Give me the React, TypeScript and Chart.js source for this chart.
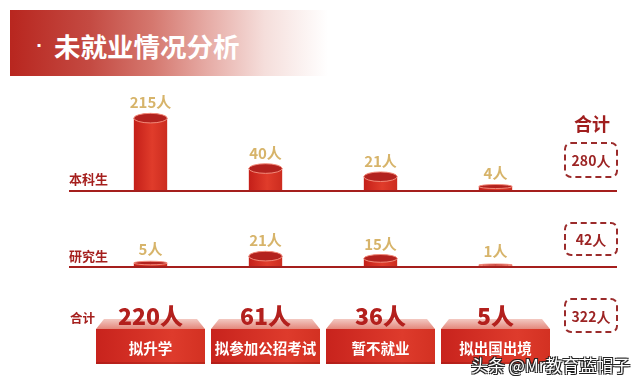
import React, { useEffect, useRef } from 'react';
import { Chart, LinearScale, registerables } from 'chart.js';

// ---------- data ----------
const categories = ['拟升学', '拟参加公招考试', '暂不就业', '拟出国出境'];
const undergrad = [215, 40, 21, 4];
const graduate = [5, 21, 15, 1];
const rowLabels = ['本科生', '研究生', '合计'];
const unit = '人';
const titleDot = '·';
const title = '未就业情况分析';
const totalHeader = '合计';
const watermark = '头条 @Mr教育蓝帽子';

const catTotals = categories.map((_, i) => undergrad[i] + graduate[i]);
const sum = (a: number[]) => a.reduce((s, v) => s + v, 0);
const rowTotals = [sum(undergrad), sum(graduate), sum(catTotals)];

// ---------- power scale (like d3.scalePow) ----------
const POW = 0.7;
class PowScale extends LinearScale {
  static id = 'pow';
  static defaults = {};
  getPixelForValue(value: number) {
    const range = (this as any).max - (this as any).min;
    const t = range > 0 ? Math.pow(Math.max(0, value - (this as any).min) / range, POW) : 0;
    return (this as any).getPixelForDecimal(t);
  }
  getValueForPixel(pixel: number) {
    const d = (this as any).getDecimalForPixel(pixel);
    return (this as any).min + Math.pow(Math.max(0, d), 1 / POW) * ((this as any).max - (this as any).min);
  }
}
Chart.register(...registerables, PowScale as any);

const FONT = '"Noto Sans CJK SC", "Noto Sans", sans-serif';
const DARK_RED = '#a51f1d';

function drawCylinder(ctx: CanvasRenderingContext2D, x: number, top: number, base: number, w: number) {
  const h = base - top;
  const rx = w / 2;
  const ry = Math.min(4.8, Math.max(1, h * 0.45));
  const g = ctx.createLinearGradient(x - rx, 0, x + rx, 0);
  g.addColorStop(0, '#c41f19');
  g.addColorStop(0.55, '#e03c2b');
  g.addColorStop(1, '#cc2c1f');
  ctx.fillStyle = g;
  ctx.fillRect(x - rx, top, w, h);
  ctx.beginPath();
  ctx.ellipse(x, top, rx, ry, 0, 0, Math.PI * 2);
  ctx.fillStyle = '#b3221e';
  ctx.fill();
  ctx.lineWidth = 1;
  ctx.strokeStyle = '#f28a7a';
  ctx.stroke();
  return ry;
}

function drawBlocks(chart: any) {
  const ctx: CanvasRenderingContext2D = chart.ctx;
  const xs = chart.scales.x;
  const bw = 109;
  const ft = 119, fb = 129, bb = 164;
  categories.forEach((cat, i) => {
    const cx = xs.getPixelForValue(i);
    const l = cx - bw / 2, r = cx + bw / 2;
    // top face
    const tg = ctx.createLinearGradient(0, ft, 0, fb);
    tg.addColorStop(0, '#f3c9c2');
    tg.addColorStop(1, '#e4877b');
    ctx.fillStyle = tg;
    ctx.beginPath();
    ctx.moveTo(l + 8, ft);
    ctx.lineTo(r - 8, ft);
    ctx.lineTo(r, fb);
    ctx.lineTo(l, fb);
    ctx.closePath();
    ctx.fill();
    // front face
    const fg = ctx.createLinearGradient(l, 0, r, 0);
    fg.addColorStop(0, '#c8231d');
    fg.addColorStop(0.7, '#de3b2c');
    fg.addColorStop(1, '#d33122');
    ctx.fillStyle = fg;
    ctx.fillRect(l, fb, bw, bb - fb);
    ctx.fillStyle = 'rgba(120,10,10,0.25)';
    ctx.fillRect(l, bb - 2, bw, 2);
    // category text
    ctx.fillStyle = '#ffffff';
    ctx.font = `bold 14.5px ${FONT}`;
    ctx.textAlign = 'center';
    ctx.textBaseline = 'middle';
    ctx.fillText(cat, cx, 148);
    // total value
    ctx.fillStyle = '#b3201d';
    ctx.font = `900 23px ${FONT}`;
    ctx.fillText(`${catTotals[i]}${unit}`, cx, 116);
  });
}

const cylinderPlugin = (withBlocks: boolean) => ({
  id: 'cylinders',
  afterDatasetsDraw(chart: any) {
    const ctx: CanvasRenderingContext2D = chart.ctx;
    const meta = chart.getDatasetMeta(0);
    const values = chart.data.datasets[0].data as number[];
    const base = chart.chartArea.bottom;
    ctx.save();
    meta.data.forEach((el: any, i: number) => {
      const { x, y, width } = el.getProps(['x', 'y', 'width'], true);
      const top = Math.min(y, base - 2);
      const ry = drawCylinder(ctx, x, top, base, width);
      ctx.fillStyle = '#d7b46a';
      ctx.font = `bold 15px ${FONT}`;
      ctx.textAlign = 'center';
      ctx.textBaseline = 'alphabetic';
      ctx.fillText(`${values[i]}${unit}`, x, top - Math.max(ry, 3) - 5);
    });
    ctx.strokeStyle = DARK_RED;
    ctx.lineWidth = 2;
    ctx.beginPath();
    ctx.moveTo(69, base);
    ctx.lineTo(617, base);
    ctx.stroke();
    if (withBlocks) drawBlocks(chart);
    ctx.restore();
  },
});

function makeConfig(data: number[], max: number, padding: any, withBlocks: boolean): any {
  return {
    type: 'bar',
    data: {
      labels: categories,
      datasets: [
        {
          data,
          backgroundColor: 'rgba(0,0,0,0)',
          borderWidth: 0,
          barPercentage: 0.29,
          categoryPercentage: 1,
        },
      ],
    },
    options: {
      animation: false,
      responsive: false,
      events: [],
      layout: { padding },
      plugins: { legend: { display: false }, tooltip: { enabled: false } },
      scales: {
        x: { type: 'category', display: false, offset: true },
        y: { type: 'pow', min: 0, max, display: false },
      },
    },
    plugins: [cylinderPlugin(withBlocks)],
  };
}

function Label(props: { text: string; left: number; cy: number; size: number; color?: string; center?: boolean; width?: number }) {
  const h = props.size * 2;
  return (
    <div
      style={{
        position: 'absolute',
        left: props.left,
        top: props.cy - h / 2,
        height: h,
        width: props.width,
        display: 'flex',
        alignItems: 'center',
        justifyContent: props.center ? 'center' : 'flex-start',
        fontFamily: FONT,
        fontWeight: 700,
        fontSize: props.size,
        color: props.color || DARK_RED,
        whiteSpace: 'nowrap',
      }}
    >
      {props.text}
    </div>
  );
}

function TotalBox(props: { value: number; top: number; height: number }) {
  return (
    <div
      style={{
        position: 'absolute',
        left: 564,
        top: props.top,
        width: 54,
        height: props.height,
        boxSizing: 'border-box',
        border: '2px dashed #9b2b2b',
        borderRadius: 7,
        display: 'flex',
        alignItems: 'center',
        justifyContent: 'center',
        fontFamily: FONT,
        fontWeight: 700,
        fontSize: 14,
        color: '#9c2424',
      }}
    >
      {`${props.value}${unit}`}
    </div>
  );
}

export default function App() {
  const uRef = useRef<HTMLCanvasElement>(null);
  const gRef = useRef<HTMLCanvasElement>(null);

  useEffect(() => {
    const cu = new Chart(uRef.current!, makeConfig(undergrad, 300, { left: 93, right: 87, top: 19, bottom: 9 }, false));
    const cg = new Chart(gRef.current!, makeConfig(graduate, 170, { left: 93, right: 87, top: 20, bottom: 118 }, true));
    return () => {
      cu.destroy();
      cg.destroy();
    };
  }, []);

  return (
    <div style={{ position: 'fixed', left: 0, top: 0, width: 640, height: 385, background: '#ffffff', overflow: 'hidden' }}>
      <div
        style={{
          position: 'absolute',
          left: 10,
          top: 10,
          width: 318,
          height: 66,
          background:
            'linear-gradient(to right, #b8261f 0%, #c44a42 25%, #d5786f 45%, #e6aba5 62%, #f5dedb 80%, rgba(255,255,255,0) 100%)',
        }}
      />
      <div
        style={{
          position: 'absolute',
          left: 36,
          top: 23,
          height: 44,
          display: 'flex',
          alignItems: 'center',
          fontFamily: '"DejaVu Sans", sans-serif',
          fontWeight: 700,
          fontSize: 16,
          color: '#ffffff',
        }}
      >
        {titleDot}
      </div>
      <div
        style={{
          position: 'absolute',
          left: 54,
          top: 23,
          height: 44,
          display: 'flex',
          alignItems: 'center',
          fontFamily: FONT,
          fontWeight: 700,
          fontSize: 26.5,
          color: '#ffffff',
          whiteSpace: 'pre',
        }}
      >
        {title}
      </div>

      <canvas ref={uRef} width={640} height={120} style={{ position: 'absolute', left: 0, top: 80 }} />
      <canvas ref={gRef} width={640} height={185} style={{ position: 'absolute', left: 0, top: 200 }} />

      <Label text={rowLabels[0]} left={69} cy={178} size={13} />
      <Label text={rowLabels[1]} left={69} cy={255} size={13} />
      <Label text={rowLabels[2]} left={70} cy={317} size={12.5} />

      <Label text={totalHeader} left={562} width={60} center cy={123} size={18} color="#a01e1e" />
      <TotalBox value={rowTotals[0]} top={142} height={36} />
      <TotalBox value={rowTotals[1]} top={222} height={34} />
      <TotalBox value={rowTotals[2]} top={298} height={35} />

      <div
        style={{
          position: 'absolute',
          left: 471,
          top: 352,
          height: 24,
          display: 'flex',
          alignItems: 'center',
          fontFamily: FONT,
          fontSize: 17,
          color: '#ffffff',
          whiteSpace: 'pre',
          textShadow: '-1px -1px 0 #222, 1px -1px 0 #222, -1px 1px 0 #222, 1px 1px 0 #222',
        }}
      >
        {watermark}
      </div>
    </div>
  );
}
